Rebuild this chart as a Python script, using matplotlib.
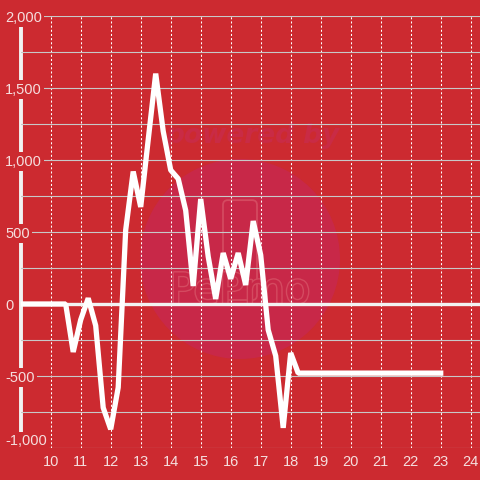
import matplotlib
matplotlib.use("Agg")
import matplotlib.pyplot as plt
from matplotlib.ticker import FixedLocator, MultipleLocator, FuncFormatter
from matplotlib.patches import Circle, FancyBboxPatch
import matplotlib.patheffects as pe

# time of day (hours) and value
times = [9.0, 10.5, 10.75, 11.0, 11.25, 11.5, 11.75, 12.0, 12.25, 12.5, 12.75,
         13.0, 13.25, 13.5, 13.75, 14.0, 14.25, 14.5, 14.75, 15.0, 15.25, 15.5,
         15.75, 16.0, 16.25, 16.5, 16.75, 17.0, 17.25, 17.5, 17.75, 18.0, 18.25, 23.0]
values = [0, 0, -333, -110, 40, -150, -720, -870, -580, 514, 920,
          674, 1140, 1600, 1200, 930, 870, 650, 125, 729, 330, 35,
          354, 175, 354, 132, 576, 340, -180, -360, -860, -340, -480, -480]
x_ticks = list(range(10, 25))

bg = "#cc2a30"
txt = "#f5dede"

plt.rcParams["font.family"] = ["Liberation Sans", "DejaVu Sans"]

fig = plt.figure(figsize=(4.8, 4.8), dpi=100, facecolor=bg)
ax = fig.add_axes([20.7 / 480, 32 / 480, (480 - 20.7) / 480, 432 / 480])
ax.set_facecolor(bg)

# watermark
ax.add_patch(Circle((240 / 480, 221 / 480), 100 / 480, transform=fig.transFigure,
                    facecolor="#c82848", edgecolor="none", zorder=0.2))
ax.text(0.525, 0.717, "powered by", transform=fig.transFigure, ha="center", va="center",
        fontsize=19, fontweight="bold", style="italic", color="#c92b45",
        family="DejaVu Sans", zorder=0.3)
ax.add_patch(FancyBboxPatch((0.4646, 0.375), 0.0708, 0.208, transform=fig.transFigure,
                            boxstyle="round,pad=0,rounding_size=0.01",
                            facecolor="none", edgecolor="#d44a60", lw=1.3, zorder=0.3))
ax.text(0.5, 0.394, "PePmo", transform=fig.transFigure, ha="center", va="center",
        fontsize=30, color="#c82848", family="DejaVu Sans", zorder=0.35,
        path_effects=[pe.withStroke(linewidth=2, foreground="#d44a60")])

ax.plot(times, values, color="white", lw=3.8, zorder=3,
        solid_joinstyle="bevel", solid_capstyle="projecting")
ax.axhline(0, color="#f2f2f2", lw=2.4, zorder=2)

ax.set_xlim(9, 24.31)
ax.set_ylim(-1000, 2000)
ax.xaxis.set_major_locator(FixedLocator(x_ticks))
ax.yaxis.set_major_locator(MultipleLocator(500))
ax.yaxis.set_minor_locator(MultipleLocator(250))
ax.yaxis.set_major_formatter(FuncFormatter(lambda v, p: f"{v:,.0f}"))

ax.xaxis.grid(True, color="white", lw=0.75, ls=(0, (2, 2)))
ax.yaxis.grid(True, which="both", color="#c8c8c8", lw=0.8)

for s in ["top", "right", "bottom"]:
    ax.spines[s].set_visible(False)
ax.spines["left"].set_color("#f2f2f2")
ax.spines["left"].set_linewidth(2.8)
ax.spines["left"].set_bounds(-910, 1945)
ax.spines["left"].set_zorder(1)

ax.tick_params(which="both", length=0)
ax.tick_params(axis="x", labelsize=10.5, labelcolor=txt, pad=5)
ax.tick_params(axis="y", labelsize=10.5, labelcolor=txt, pad=11.3)
for lab in ax.get_yticklabels():
    lab.set_ha("left")
    lab.set_bbox(dict(facecolor=bg, edgecolor="none", pad=1.5))
    # the lowest label sits just above its line
    if lab.get_text() == "-1,000":
        lab.set_va("bottom")

fig.savefig("out.png", dpi=100, facecolor=bg)
